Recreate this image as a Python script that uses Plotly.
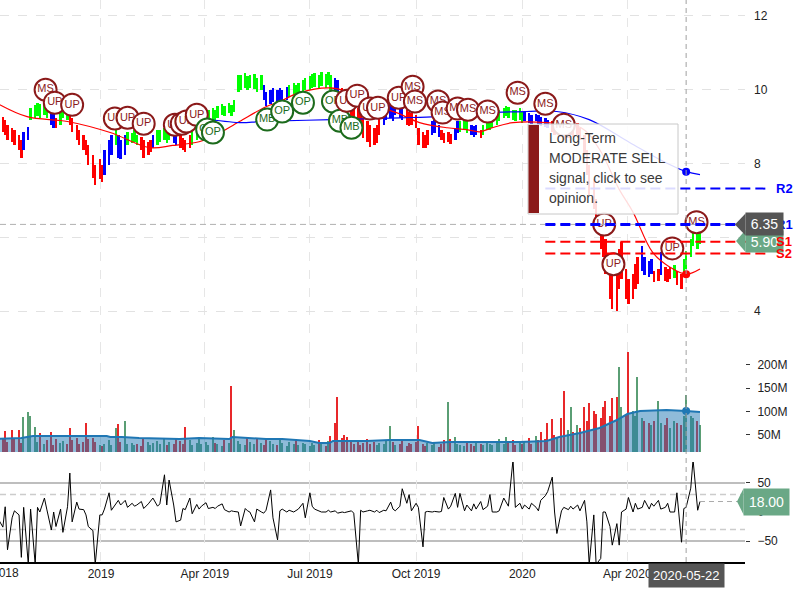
import pandas as pd
import plotly.graph_objects as go

FONT = "Liberation Sans, Arial, sans-serif"

# ---------------- data ----------------
series_start = "2018-10-02"          # every second trading day from here

trend_by_month = [
    "RRRRRRRRRBB", "GGGGGGBBRGG", "GRRRRRRRRRR", "RBBBGBBBGGG", "GRRRRBGGGG",
    "GBBRRRRGGGG", "GGGGGGGGGGG", "GGGGGGGBBBB", "BBBBGGGGGG", "GGGGGGGGBBRR",
    "RRRRRRRRRRR", "BBBBBBBRRRR", "RRRRBBBRRRR", "BBGGGBBBRGG", "GGGGGGGGGGG",
    "BBBBBBBBRRR", "RRRRRRRRRR", "RRRRRRRRRRR", "RRRRBBBBRRB", "RRRGRRGGGGGG",
]

bar_high = [
    9.24, 9.32, 9.27, 9.19, 9.05, 8.97, 8.92, 8.78, 8.65, 8.86, 9.00,
    9.51, 9.59, 9.65, 9.62, 9.68, 9.59, 9.46, 9.41, 9.24, 9.46, 9.65,
    9.59, 9.46, 9.24, 9.05, 8.92, 8.78, 8.65, 8.51, 8.24, 7.97, 8.11,
    7.97, 8.38, 8.65, 8.78, 8.97, 8.78, 8.65, 8.78, 8.86, 8.84, 8.92,
    8.78, 8.73, 8.65, 8.59, 8.65, 8.78, 8.92, 8.92, 8.97, 8.92,
    8.97, 8.86, 8.86, 8.78, 8.70, 8.65, 8.76, 8.92, 9.05, 9.24, 9.38,
    9.41, 9.46, 9.51, 9.46, 9.57, 9.62, 9.57, 9.65, 9.59, 9.73, 10.41,
    10.41, 10.46, 10.38, 10.41, 10.43, 10.32, 10.41, 10.14, 9.95, 10.00, 10.05,
    10.00, 10.05, 10.00, 10.08, 10.14, 10.19, 10.14, 10.19, 10.27, 10.32,
    10.38, 10.43, 10.46, 10.41, 10.49, 10.43, 10.49, 10.41, 10.32, 10.27, 10.05, 9.86,
    9.73, 9.65, 9.59, 9.51, 9.41, 9.24, 9.14, 9.05, 8.97, 9.05, 9.24,
    9.46, 9.59, 9.65, 9.59, 9.73, 9.68, 9.59, 9.46, 9.41, 9.38, 9.32,
    8.97, 8.86, 8.78, 8.92, 9.14, 9.19, 9.05, 8.92, 8.84, 8.86, 8.81,
    8.97, 9.14, 9.14, 9.19, 9.14, 9.05, 9.03, 9.05, 8.92, 9.05, 9.14,
    9.19, 9.24, 9.32, 9.46, 9.51, 9.57, 9.54, 9.46, 9.46, 9.51, 9.41,
    9.41, 9.38, 9.32, 9.35, 9.32, 9.27, 9.24, 9.19, 9.14, 9.05, 9.11,
    9.05, 8.97, 9.05, 9.14, 9.05, 9.11, 8.97, 8.78, 8.38, 7.97,
    7.57, 7.03, 6.35, 6.16, 5.95, 5.54, 5.27, 5.14, 5.68, 5.86, 5.14,
    4.86, 5.00, 5.27, 5.46, 5.76, 5.46, 5.35, 5.41, 5.08, 5.14, 5.59,
    5.19, 5.14, 5.19, 5.24, 5.08, 5.00, 5.41, 5.62, 5.95, 6.22, 6.08, 6.14,
]

bar_low = [
    8.92, 8.97, 8.86, 8.78, 8.65, 8.59, 8.51, 8.38, 8.16, 8.38, 8.65,
    9.19, 9.24, 9.30, 9.24, 9.32, 9.24, 9.05, 8.97, 8.97, 9.05, 9.24,
    9.19, 9.05, 8.86, 8.65, 8.51, 8.38, 8.24, 7.97, 7.62, 7.43, 7.57,
    7.51, 7.70, 7.97, 8.24, 8.51, 8.16, 8.11, 8.24, 8.51, 8.57, 8.59,
    8.51, 8.38, 8.16, 8.24, 8.32, 8.43, 8.51, 8.59, 8.65, 8.57,
    8.65, 8.57, 8.51, 8.43, 8.38, 8.32, 8.43, 8.51, 8.65, 8.78, 8.92,
    9.05, 9.11, 9.19, 9.14, 9.24, 9.32, 9.30, 9.38, 9.30, 9.41, 9.95,
    10.00, 10.05, 10.00, 10.05, 10.03, 9.95, 10.00, 9.73, 9.57, 9.62, 9.68,
    9.65, 9.68, 9.73, 9.73, 9.81, 9.86, 9.84, 9.89, 9.95, 10.00,
    10.00, 10.05, 10.08, 10.05, 10.11, 10.05, 10.14, 10.00, 9.95, 9.86, 9.59, 9.41,
    9.24, 9.14, 9.05, 8.97, 8.92, 8.70, 8.59, 8.46, 8.51, 8.57, 8.78,
    9.05, 9.19, 9.24, 9.14, 9.32, 9.24, 9.19, 9.05, 9.03, 9.05, 8.97,
    8.51, 8.43, 8.43, 8.51, 8.78, 8.84, 8.73, 8.65, 8.57, 8.59, 8.54,
    8.65, 8.84, 8.86, 8.92, 8.84, 8.78, 8.73, 8.78, 8.70, 8.78, 8.92,
    8.92, 8.97, 9.05, 9.14, 9.24, 9.30, 9.24, 9.19, 9.14, 9.19, 9.11,
    9.14, 9.11, 9.08, 9.14, 9.05, 9.03, 9.00, 8.97, 8.86, 8.78, 8.84,
    8.73, 8.65, 8.70, 8.78, 8.73, 8.78, 8.65, 8.24, 7.70, 7.16,
    6.76, 6.22, 5.68, 5.46, 5.00, 4.32, 4.05, 4.00, 4.59, 4.86, 4.32,
    4.19, 4.32, 4.59, 4.73, 5.08, 4.97, 4.92, 5.00, 4.78, 4.81, 4.97,
    4.81, 4.78, 4.86, 4.89, 4.70, 4.59, 4.95, 5.14, 5.46, 5.76, 5.68, 5.81,
]

volume_m = [
    38, 30, 42, 58, 35, 60, 40, 60, 32, 88, 99,
    90, 67, 35, 54, 30, 38, 56, 28, 40, 32, 36,
    30, 64, 38, 42, 30, 35, 75, 40, 44, 35, 28,
    25, 30, 38, 28, 64, 73, 35, 79, 30, 33, 28,
    30, 26, 40, 35, 28, 32, 36, 30, 42, 28,
    34, 30, 42, 36, 30, 67, 38, 28, 33, 40, 30,
    35, 28, 45, 32, 30, 26, 38, 32, 154, 60, 36,
    30, 28, 42, 35, 30, 40, 33, 28, 42, 36, 30,
    28, 38, 32, 26, 35, 30, 40, 28, 33, 30,
    26, 32, 28, 38, 30, 25, 36, 48, 75, 131, 42, 50,
    45, 38, 30, 35, 28, 32, 40, 30, 34, 28, 33,
    30, 36, 69, 35, 28, 30, 38, 26, 32, 30, 35,
    69, 30, 26, 32, 28, 35, 24, 30, 38, 120, 40,
    45, 30, 28, 26, 32, 30, 25, 34, 30, 28, 32,
    30, 28, 35, 40, 30, 45, 32, 38, 28, 34, 30,
    35, 42, 30, 48, 38, 55, 40, 75, 83, 50, 45,
    86, 144, 60, 109, 55, 70, 65, 109, 80, 118,
    101, 95, 85, 110, 122, 90, 128, 131, 195, 110, 95,
    227, 100, 90, 174, 85, 80, 75, 70, 80, 122, 75,
    70, 85, 65, 80, 75, 70, 90, 135, 90, 85, 80, 70,
]

indicator = [
    -8, -12, -26, 9, -65, -10, 2, -5, -78, 8, -90,
    5, -90, 8, 0, 24, 5, -31, 0, -25, 5, -35,
    9, 67, -17, 17, 5, 4, -5, -25, -32, -90, -5,
    -5, 5, 33, 3, 13, 20, 12, 20, 8, 15, 10,
    12, 18, 6, 14, 20, 24, 10, 14, 64, 12,
    55, 12, -17, -14, 6, 4, 24, -3, 13, 5, 10,
    16, 6, 8, 6, 10, 14, 4, 0, 2, 1, 0,
    -24, 6, 2, 0, -17, 5, 0, -2, 3, 38, -10,
    -48, 2, 5, 0, 3, 0, 2, 5, 15, -10,
    33, 10, 5, 2, 0, 0, 3, 0, 2, -2, 0, -1,
    0, 2, -2, -90, 3, 0, 2, 3, 0, 3, -1,
    3, 2, 17, 5, 2, 10, 40, 15, 30, 2, 15,
    8, -60, 0, 1, 0, 1, 0, 1, 25, 5, 10,
    32, 8, 32, 2, 12, 2, 14, 5, 18, 4, 10,
    30, 0, 0, 2, 24, 18, 10, 90, 8, 15, 5,
    12, 5, 15, 8, 2, 20, 28, 35, 60, 0, -37,
    2, 8, 4, 10, 5, 12, 2, 20, -17, -90,
    -5, -90, -80, 0, 0, -25, -57, -20, -57, 0, 5,
    25, 0, 15, 5, 8, 20, 5, 15, 10, 20, 5,
    8, 15, 0, 0, 33, -52, 6, 8, 41, 90, 3, 18,
]

red_ma_dates = ["2018-10-02", "2018-10-29", "2018-12-03", "2019-01-09", "2019-02-12", "2019-03-04",
                "2019-03-27", "2019-04-08", "2019-05-01", "2019-05-24", "2019-06-05", "2019-06-22",
                "2019-07-18", "2019-08-02", "2019-08-19", "2019-09-14", "2019-10-04", "2019-10-28",
                "2019-11-14", "2019-11-25", "2019-12-06", "2019-12-24", "2020-01-22", "2020-02-21",
                "2020-03-08", "2020-03-25", "2020-04-06", "2020-04-23", "2020-05-08", "2020-05-22",
                "2020-06-03"]
red_ma_vals = [9.65, 9.27, 9.14, 8.84, 8.43, 8.49, 8.59, 8.73, 9.14, 9.54, 9.68, 9.92,
               10.05, 9.95, 9.65, 9.38, 9.11, 8.97, 8.92, 8.86, 8.97, 9.11, 9.11, 8.97,
               8.38, 7.30, 6.68, 5.59, 5.19, 5.00, 5.14]

blue_ma_dates = ["2019-03-30", "2019-05-01", "2019-05-20", "2019-07-20", "2019-09-17", "2019-10-19",
                 "2019-12-01", "2020-01-05", "2020-01-31", "2020-02-28", "2020-04-03", "2020-04-29",
                 "2020-05-22", "2020-06-03"]
blue_ma_vals = [9.22, 9.11, 9.14, 9.19, 9.24, 9.27, 9.38, 9.41, 9.41, 9.19, 8.57, 8.11, 7.78, 7.70]

vol_ma_dates = ["2018-10-02", "2018-10-24", "2018-10-29", "2018-11-03", "2019-01-06", "2019-01-09",
                "2019-01-19", "2019-02-03", "2019-03-10", "2019-03-27", "2019-04-22", "2019-04-25",
                "2019-05-24", "2019-06-07", "2019-07-01", "2019-07-09", "2019-07-18", "2019-07-21",
                "2019-08-19", "2019-09-08", "2019-10-04", "2019-10-15", "2019-10-30", "2019-12-30",
                "2020-01-22", "2020-02-02", "2020-02-20", "2020-03-08", "2020-03-23", "2020-04-01",
                "2020-04-12", "2020-05-05", "2020-05-22", "2020-06-03"]
vol_ma_m = [40.8, 42.9, 45.0, 47.2, 47.2, 45.0, 45.0, 42.9, 40.8, 42.9, 40.8, 45.0,
            40.8, 40.8, 36.5, 32.2, 32.2, 36.5, 36.5, 38.6, 38.6, 32.2, 34.3, 34.3,
            36.5, 45.0, 53.6, 64.4, 81.5, 94.4, 100.9, 103.0, 100.9, 98.7]

sig_dates = ["2018-11-14", "2018-11-22", "2018-12-07", "2019-01-13", "2019-01-24", "2019-02-07",
             "2019-03-06", "2019-03-12", "2019-03-16", "2019-03-25", "2019-04-03", "2019-04-08",
             "2019-05-25", "2019-06-07", "2019-06-25", "2019-07-21", "2019-07-27", "2019-08-02",
             "2019-08-06", "2019-08-11", "2019-08-22", "2019-08-29", "2019-09-16", "2019-09-28",
             "2019-09-30", "2019-10-20", "2019-10-24", "2019-11-06", "2019-11-15", "2019-12-02",
             "2019-12-28", "2020-01-21", "2020-02-06", "2020-03-12", "2020-03-20", "2020-05-10",
             "2020-05-31"]
sig_prices = [10.0, 9.65, 9.59, 9.22, 9.24, 9.08, 9.05, 9.08, 9.14, 9.32, 8.92, 8.84,
              9.19, 9.41, 9.65, 9.68, 9.16, 9.70, 8.97, 9.84, 9.49, 9.51, 9.78, 10.08,
              9.68, 9.68, 9.38, 9.49, 9.46, 9.41, 9.92, 9.62, 9.05, 6.35, 5.27, 5.70, 6.41]
sig_labels = ["MS", "UP", "UP", "UP", "UP", "UP", "UP", "UP", "UP", "UP", "OP", "OP",
              "MB", "OP", "OP", "OP", "MB", "UP", "MB", "UP", "UP", "UP", "UP", "MS",
              "MS", "MS", "MS", "MS", "MS", "MS", "MS", "MS", "MS", "UP", "UP", "UP", "MS"]

level_names = ["R2", "R1", "S1", "S2"]
level_values = [7.32, 6.35, 5.88, 5.56]
level_start = "2020-01-21"

hover_date = "2020-05-22"
hover_price = 6.35
last_close = 5.90

popup_lines = ["Long-Term", "MODERATE SELL", "signal, click to see", "opinion."]

x_range = ["2018-10-05 12:00", "2020-07-12"]
x_tick_vals = ["2019-01-01", "2019-04-01", "2019-07-01", "2019-10-01", "2020-01-01", "2020-04-01"]
x_tick_text = ["2019", "Apr 2019", "Jul 2019", "Oct 2019", "2020", "Apr 2020"]
first_tick_val, first_tick_text = "2018-10-01", "Oct 2018"

price_ticks = [4, 6, 8, 10, 12]
vol_ticks = [50, 100, 150, 200]
ind_ticks = [-50, 0, 50]
ind_outer = [50, -50]
ind_inner = [30, -30]

# ---------------- derived ----------------
trend = "".join(trend_by_month)
n = len(bar_high)
assert len(bar_low) == n and len(trend) == n and len(volume_m) == n and len(indicator) == n
dates = pd.date_range(series_start, periods=n, freq="2B")

TREND_COLORS = {"R": "#ff0000", "B": "#0000ff", "G": "#00ff00"}
bar_colors = [TREND_COLORS[t] for t in trend]

mids = [(h + l) / 2 for h, l in zip(bar_high, bar_low)]
vol_colors = ["#e8282a" if i > 0 and mids[i] < mids[i - 1] else "#5a9e74" for i in range(n)]

# geometry of the plot area (pixels)
PW, PH = 745, 562
price_dom = [1 - 345 / PH, 1]
vol_dom = [1 - 452 / PH, 1 - 345 / PH]
ind_dom = [0, 100 / PH]
price_range = [4 - 34 / 37, 12 + 16 / 37]
vol_range = [12.9e6, 242.5e6]
ind_range = [-86, 86]

t0, t1 = pd.Timestamp(x_range[0]), pd.Timestamp(x_range[1])
px_per_day = PW / ((t1 - t0).total_seconds() / 86400)
DAY_MS = 86400000


def xpaper(d):
    return (pd.Timestamp(d) - t0) / (t1 - t0)


price_per_px = (price_range[1] - price_range[0]) / 345
ind_per_px = (ind_range[1] - ind_range[0]) / 100

fig = go.Figure()

# price bars
fig.add_trace(go.Bar(x=dates, y=[h - l for h, l in zip(bar_high, bar_low)], base=bar_low,
                     marker=dict(color=bar_colors, line=dict(width=0)),
                     width=2.4 / px_per_day * DAY_MS, xaxis="x", yaxis="y", hoverinfo="skip"))
# moving averages
fig.add_trace(go.Scatter(x=red_ma_dates, y=red_ma_vals, mode="lines", line=dict(color="#ff0000", width=1.2, shape="spline"),
                         xaxis="x", yaxis="y", hoverinfo="skip"))
fig.add_trace(go.Scatter(x=blue_ma_dates, y=blue_ma_vals, mode="lines", line=dict(color="#0000ff", width=1.2, shape="spline"),
                         xaxis="x", yaxis="y", hoverinfo="skip"))
ri = red_ma_dates.index(hover_date)
bi = blue_ma_dates.index(hover_date)
fig.add_trace(go.Scatter(x=[hover_date], y=[red_ma_vals[ri]], mode="markers", marker=dict(color="#ff0000", size=8),
                         xaxis="x", yaxis="y", hoverinfo="skip"))
fig.add_trace(go.Scatter(x=[hover_date], y=[blue_ma_vals[bi]], mode="markers", marker=dict(color="#0000ff", size=8),
                         xaxis="x", yaxis="y", hoverinfo="skip"))

# signals, one trace each so later circles cover earlier ones (text included)
SIG_COLORS = {"MS": "#8b1a1a", "UP": "#8b1a1a", "OP": "#1c6b1c", "MB": "#1c6b1c"}
for d, p, lab in zip(sig_dates, sig_prices, sig_labels):
    c = SIG_COLORS[lab]
    fig.add_trace(go.Scatter(x=[d], y=[p], mode="markers+text", text=[lab], textposition="middle center",
                             marker=dict(size=22, color="white", line=dict(color=c, width=2)),
                             textfont=dict(color=c, size=11, family=FONT),
                             xaxis="x", yaxis="y", hoverinfo="skip", cliponaxis=False))

# volume
fig.add_trace(go.Bar(x=dates, y=[v * 1e6 for v in volume_m], marker=dict(color=vol_colors, line=dict(width=0)),
                     width=1.4 / px_per_day * DAY_MS, xaxis="x", yaxis="y2", hoverinfo="skip"))
fig.add_trace(go.Scatter(x=vol_ma_dates, y=[v * 1e6 for v in vol_ma_m], mode="lines", fill="tozeroy",
                         fillcolor="rgba(31,119,180,0.5)", line=dict(color="#1f77b4", width=2),
                         xaxis="x", yaxis="y2", hoverinfo="skip"))
vi = vol_ma_dates.index(hover_date)
fig.add_trace(go.Scatter(x=[hover_date], y=[vol_ma_m[vi] * 1e6], mode="markers", marker=dict(color="#1f77b4", size=8),
                         xaxis="x", yaxis="y2", hoverinfo="skip"))

# indicator
fig.add_trace(go.Scatter(x=dates, y=indicator, mode="lines", line=dict(color="black", width=1),
                         xaxis="x", yaxis="y3", hoverinfo="skip"))

shapes = []
for v in ind_outer:
    shapes.append(dict(type="line", xref="paper", yref="y3", x0=0, x1=1, y0=v, y1=v,
                       line=dict(color="#a9a9a9", width=1.5), layer="below"))
for v in ind_inner:
    shapes.append(dict(type="line", xref="paper", yref="y3", x0=0, x1=1, y0=v, y1=v,
                       line=dict(color="#cccccc", width=1.5, dash="6px,4px"), layer="below"))

# crosshair
shapes.append(dict(type="line", xref="paper", yref="y", x0=0, x1=1, y0=hover_price, y1=hover_price,
                   line=dict(color="#b0b0b0", width=1, dash="6px,4px"), layer="above"))
shapes.append(dict(type="line", xref="x", yref="paper", x0=hover_date, x1=hover_date, y0=0, y1=1,
                   line=dict(color="#a0a0a0", width=1, dash="5px,4px"), layer="above"))
# indicator last-value guide
shapes.append(dict(type="line", xref="paper", yref="y3", x0=xpaper(dates[-1]), x1=743 / PW,
                   y0=indicator[-1], y1=indicator[-1], line=dict(color="#aaaaaa", width=1, dash="5px,4px"), layer="above"))

# support / resistance levels
LEVEL_STYLE = {"R2": ("#0000ff", 2, 768), "R1": ("#0000ff", 3, 745), "S1": ("#ff0000", 2, 770), "S2": ("#ff0000", 2, 768)}
xs = xpaper(level_start)
for name, val in zip(level_names, level_values):
    col, w, xend = LEVEL_STYLE[name]
    shapes.append(dict(type="line", xref="paper", yref="y", x0=xs, x1=xend / PW, y0=val, y1=val,
                       line=dict(color=col, width=w, dash="10px,5px"), layer="above"))

# popup box
shapes.append(dict(type="rect", xref="paper", yref="paper", x0=528 / PW, x1=678 / PW,
                   y0=1 - 214 / PH, y1=1 - 124 / PH, fillcolor="rgba(255,255,255,0.86)",
                   line=dict(color="#c8c8c8", width=1), layer="above"))
shapes.append(dict(type="rect", xref="paper", yref="paper", x0=528.5 / PW, x1=539 / PW,
                   y0=1 - 213 / PH, y1=1 - 125 / PH, fillcolor="#8b1a1a", line=dict(width=0), layer="above"))

# tag arrow points
hp = 11 * price_per_px
shapes.append(dict(type="path", xref="paper", yref="y",
                   path=f"M {736 / PW},{last_close} L {745.5 / PW},{last_close + hp} L {745.5 / PW},{last_close - hp} Z",
                   fillcolor="#6aa886", line=dict(width=0), layer="above"))
shapes.append(dict(type="path", xref="paper", yref="y",
                   path=f"M {735 / PW},{hover_price} L {745.5 / PW},{hover_price + hp} L {745.5 / PW},{hover_price - hp} Z",
                   fillcolor="#555555", line=dict(width=0), layer="above"))
hi = 13 * ind_per_px
shapes.append(dict(type="path", xref="paper", yref="y3",
                   path=f"M {737 / PW},{indicator[-1]} L {743.5 / PW},{indicator[-1] + hi} L {743.5 / PW},{indicator[-1] - hi} Z",
                   fillcolor="#6aa886", line=dict(width=0), layer="above"))

annotations = []
for k, line in enumerate(popup_lines):
    annotations.append(dict(xref="paper", yref="paper", x=547 / PW, y=1 - (138 + 20 * k) / PH,
                            xanchor="left", yanchor="middle", text=line, showarrow=False,
                            font=dict(family=FONT, size=14, color="#3a3a3a")))


def level_label(name, val):
    col = LEVEL_STYLE[name][0]
    return dict(xref="paper", yref="y", x=784 / PW, y=val, xanchor="center", yanchor="middle",
                text=f"<b>{name}</b>", showarrow=False, font=dict(family=FONT, size=13, color=col))


lv = dict(zip(level_names, level_values))
annotations.append(level_label("R2", lv["R2"]))
annotations.append(level_label("R1", lv["R1"]))
annotations.append(dict(xref="paper", yref="y", x=1.0, y=last_close, xanchor="left", yanchor="middle",
                        text=f"{last_close:.2f}", showarrow=False, bgcolor="#6aa886", width=37, height=21,
                        borderpad=0, font=dict(family=FONT, size=14, color="white")))
annotations.append(dict(xref="paper", yref="y", x=1.0, y=hover_price, xanchor="left", yanchor="middle",
                        text=f"{hover_price:.2f}", showarrow=False, bgcolor="#555555", width=37, height=22,
                        borderpad=0, font=dict(family=FONT, size=14, color="white")))
annotations.append(level_label("S1", lv["S1"]))
annotations.append(level_label("S2", lv["S2"]))
annotations.append(dict(xref="paper", yref="y3", x=743 / PW, y=indicator[-1], xanchor="left", yanchor="middle",
                        text=f"{indicator[-1]:.2f}", showarrow=False, bgcolor="#6aa886", width=45, height=26,
                        borderpad=0, font=dict(family=FONT, size=14, color="white")))
annotations.append(dict(xref="x", yref="paper", x=hover_date, y=0, xanchor="center", yanchor="top", yshift=-1,
                        text=hover_date, showarrow=False, bgcolor="#555555", borderpad=4,
                        font=dict(family=FONT, size=13, color="white")))
# first (partly cut) x tick label, placed in paper coordinates so it is drawn although off-range
annotations.append(dict(xref="paper", yref="paper", x=xpaper(first_tick_val), y=0, xanchor="center", yanchor="top",
                        yshift=-2, text=first_tick_text, showarrow=False, font=dict(family=FONT, size=12, color="#222")))

fig.update_layout(
    width=800, height=600, margin=dict(l=0, r=55, t=0, b=38),
    plot_bgcolor="white", paper_bgcolor="white", showlegend=False,
    barmode="overlay", bargap=0,
    font=dict(family=FONT, size=12, color="#222"),
    xaxis=dict(range=x_range, anchor="y3", domain=[0, 1], tickvals=x_tick_vals, ticktext=x_tick_text,
               showgrid=True, gridcolor="#e6e6e6", griddash="dash", showline=True, linecolor="black",
               linewidth=1.5, ticks="", zeroline=False, tickfont=dict(size=12, color="#222")),
    yaxis=dict(domain=price_dom, range=price_range, side="right", anchor="x", tickvals=price_ticks,
               showgrid=True, gridcolor="#e2e2e2", griddash="dash", zeroline=False, ticks="",
               ticklabelstandoff=8, tickfont=dict(size=12, color="#222")),
    yaxis2=dict(domain=vol_dom, range=vol_range, side="right", anchor="x",
                tickvals=[v * 1e6 for v in vol_ticks], ticktext=[f"{v}M" for v in vol_ticks],
                showgrid=False, zeroline=False, ticks="outside", ticklen=4, tickcolor="#333",
                ticklabelstandoff=5, tickfont=dict(size=12, color="#222")),
    yaxis3=dict(domain=ind_dom, range=ind_range, side="right", anchor="x", tickvals=ind_ticks,
                showgrid=False, zeroline=False, ticks="outside", ticklen=4, tickcolor="#333",
                ticklabelstandoff=5, tickfont=dict(size=12, color="#222")),
    shapes=shapes, annotations=annotations,
)

fig.write_html("out.html", config={"displayModeBar": False},
               post_script="document.body.style.margin='0';")
